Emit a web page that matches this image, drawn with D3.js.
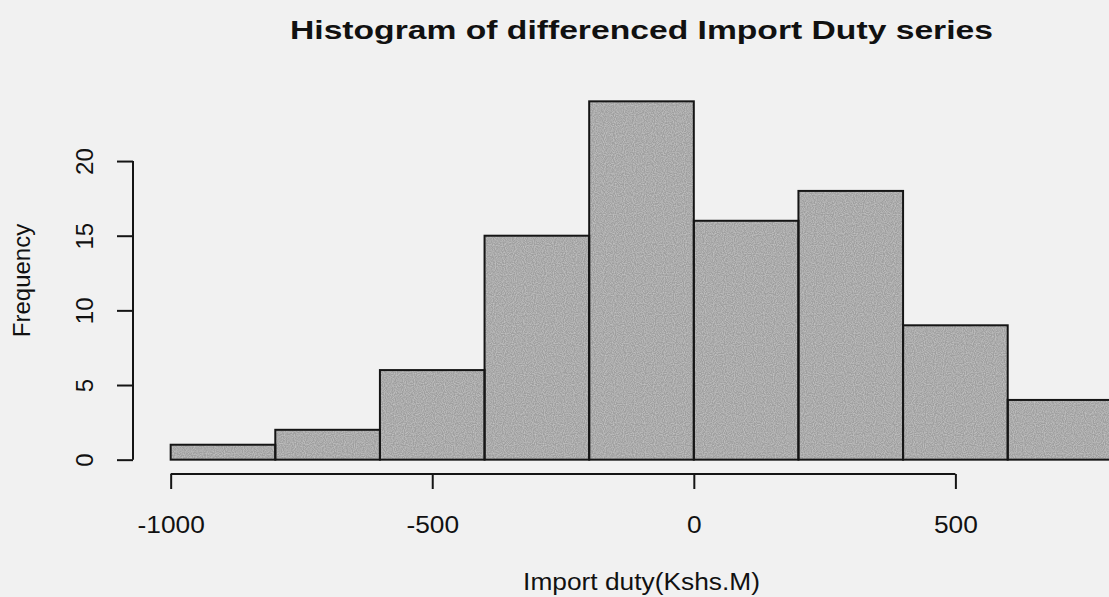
<!DOCTYPE html>
<html>
<head>
<meta charset="utf-8">
<script src="https://cdn.jsdelivr.net/npm/d3@7"></script>
<style>
  html, body { margin: 0; padding: 0; background: #f1f1f1; overflow: hidden; }
  text { font-family: "Liberation Sans", Arial, sans-serif; fill: #111; }
</style>
</head>
<body>
<div id="chart"></div>
<script>
// DATA: histogram of differenced import duty (bin width 200)
const binStarts = [-1000, -800, -600, -400, -200, 0, 200, 400, 600];
const binWidth = 200;
const counts = [1, 2, 6, 15, 24, 16, 18, 9, 4];
const xTicks = [-1000, -500, 0, 500];
const yTicks = [0, 5, 10, 15, 20];
const titleText = "Histogram of differenced Import Duty series";
const xLabel = "Import duty(Kshs.M)";
const yLabel = "Frequency";

const W = 1109, H = 597;
const stretch = 1.12; // scan is a bit wider than tall

const svg = d3.select("#chart")
    .append("svg")
    .attr("width", W)
    .attr("height", H);

svg.append("rect")
    .attr("width", W)
    .attr("height", H)
    .attr("fill", "#f1f1f1");

// speckled grey like the printed bars
const defs = svg.append("defs");
const filt = defs.append("filter").attr("id", "speckle")
    .attr("x", 0).attr("y", 0).attr("width", 1).attr("height", 1);
filt.append("feTurbulence")
    .attr("type", "fractalNoise")
    .attr("baseFrequency", 0.9)
    .attr("numOctaves", 1)
    .attr("seed", 3)
    .attr("result", "noise");
filt.append("feColorMatrix")
    .attr("in", "noise")
    .attr("type", "matrix")
    .attr("values", "0 0 0 0 0.72  0 0 0 0 0.72  0 0 0 0 0.72  1.1 0 0 0 -0.38")
    .attr("result", "dots");
filt.append("feComposite")
    .attr("in", "dots")
    .attr("in2", "SourceGraphic")
    .attr("operator", "atop");

// R-style scales: data range padded by 4% on each side
const xMin = binStarts[0], xMax = binStarts[binStarts.length - 1] + binWidth;
const xPad = (xMax - xMin) * 0.04;
const yMax = d3.max(counts);
const yPad = yMax * 0.04;

const x = d3.scaleLinear()
    .domain([xMin - xPad, xMax + xPad])
    .range([133, 1150]);

const y = d3.scaleLinear()
    .domain([-yPad, yMax + yPad])
    .range([474, 87]);

const bins = binStarts.map((s, i) => ({ x0: s, x1: s + binWidth, n: counts[i] }));

// bars
svg.append("g")
    .selectAll("rect")
    .data(bins)
    .enter()
    .append("rect")
    .attr("x", d => x(d.x0))
    .attr("y", d => y(d.n))
    .attr("width", d => x(d.x1) - x(d.x0))
    .attr("height", d => y(0) - y(d.n))
    .attr("fill", "#9f9f9f")
    .attr("filter", "url(#speckle)");

svg.append("g")
    .selectAll("rect")
    .data(bins)
    .enter()
    .append("rect")
    .attr("x", d => x(d.x0))
    .attr("y", d => y(d.n))
    .attr("width", d => x(d.x1) - x(d.x0))
    .attr("height", d => y(0) - y(d.n))
    .attr("fill", "none")
    .attr("stroke", "#151515")
    .attr("stroke-width", 2);

// x axis (R style: line only spanning the ticks)
const xAxis = svg.append("g")
    .attr("transform", `translate(0, ${y(-yPad)})`)
    .call(d3.axisBottom(x).tickValues(xTicks).tickSize(15).tickSizeOuter(0).tickFormat(d3.format("d")));
xAxis.select(".domain").remove();
xAxis.append("line")
    .attr("x1", x(xTicks[0]))
    .attr("x2", x(xTicks[xTicks.length - 1]))
    .attr("stroke", "#151515")
    .attr("stroke-width", 2);
xAxis.selectAll(".tick line").attr("stroke", "#151515").attr("stroke-width", 2);
xAxis.selectAll(".tick text")
    .attr("y", 0)
    .attr("dy", 0)
    .attr("transform", `translate(0, 59) scale(${stretch}, 1)`)
    .style("font-size", "23.5px")
    .style("font-family", "Liberation Sans, Arial, sans-serif")
    .attr("fill", "#111")
    .text(d => d);

// y axis
const yAxis = svg.append("g")
    .attr("transform", `translate(${x(xMin - xPad)}, 0)`)
    .call(d3.axisLeft(y).tickValues(yTicks).tickSize(16).tickSizeOuter(0));
yAxis.select(".domain").remove();
yAxis.append("line")
    .attr("y1", y(yTicks[0]))
    .attr("y2", y(yTicks[yTicks.length - 1]))
    .attr("stroke", "#151515")
    .attr("stroke-width", 2);
yAxis.selectAll(".tick line").attr("stroke", "#151515").attr("stroke-width", 2);
yAxis.selectAll(".tick text")
    .attr("x", 0)
    .attr("dy", 0)
    .attr("transform", "translate(-40, 0) rotate(-90)")
    .attr("text-anchor", "middle")
    .style("font-size", "24px")
    .style("font-family", "Liberation Sans, Arial, sans-serif")
    .attr("fill", "#111");

const midX = x((xMin + xMax) / 2);

// title
svg.append("text")
    .attr("x", midX)
    .attr("y", 39)
    .attr("text-anchor", "middle")
    .attr("textLength", 703)
    .attr("lengthAdjust", "spacingAndGlyphs")
    .style("font-size", "26px")
    .style("font-weight", "bold")
    .text(titleText);

// axis titles
svg.append("text")
    .attr("transform", `translate(${midX}, 590) scale(${stretch}, 1)`)
    .attr("text-anchor", "middle")
    .style("font-size", "23.5px")
    .text(xLabel);

svg.append("text")
    .attr("transform", `translate(30, ${y(yMax / 2)}) rotate(-90)`)
    .attr("text-anchor", "middle")
    .style("font-size", "24px")
    .attr("fill", "#333")
    .text(yLabel);
</script>
</body>
</html>
